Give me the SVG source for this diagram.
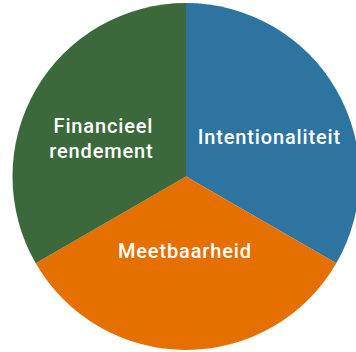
<svg xmlns="http://www.w3.org/2000/svg" width="356" height="352" viewBox="0 0 356 352">
<style>
.lbl{font-family:Roboto,"Liberation Sans",sans-serif;font-weight:500;font-size:20px;letter-spacing:0.85px;fill:#ffffff;text-anchor:middle}
</style>
<rect width="356" height="352" fill="#ffffff"/>
<g id="slice-intentionaliteit">
<path d="M186 176.5 L186 3 A173.5 173.5 0 0 1 336.26 263.25 Z" fill="#2e74a0"/>
<text class="lbl" x="269.4" y="144">Intentionaliteit</text>
</g>
<g id="slice-meetbaarheid">
<path d="M186 176.5 L336.26 263.25 A173.5 173.5 0 0 1 35.74 263.25 Z" fill="#e57000"/>
<text class="lbl" x="184.9" y="258">Meetbaarheid</text>
</g>
<g id="slice-financieel">
<path d="M186 176.5 L35.74 263.25 A173.5 173.5 0 0 1 186 3 Z" fill="#3b693c"/>
<text class="lbl" x="103.4" y="133">Financieel</text>
<text class="lbl" x="101.4" y="158">rendement</text>
</g>
<g id="connectors"/>
</svg>
